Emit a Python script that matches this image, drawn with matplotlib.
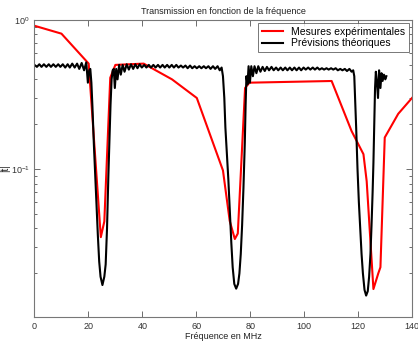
import matplotlib
matplotlib.use("Agg")
import matplotlib.pyplot as plt
from matplotlib.ticker import FixedLocator, NullFormatter

plt.rcParams['font.family'] = ['Liberation Sans', 'DejaVu Sans']
plt.rcParams['mathtext.fontset'] = 'custom'
plt.rcParams['mathtext.rm'] = 'Liberation Sans'
plt.rcParams['mathtext.it'] = 'Liberation Sans'

# experimental measurements (MHz, |t|)
mes_freq = [0, 10, 20.1, 24.6, 25.9, 28.1, 30, 40.5, 51, 60.2, 69.9, 72.4,
            74.3, 75.4, 78.1, 79.7, 110.2, 117.6, 122, 123.2, 125.7, 127.5,
            128.3, 129.9, 134.9, 140]
mes_t = [0.915, 0.81, 0.51, 0.035, 0.0446, 0.41, 0.50, 0.51, 0.40, 0.30, 0.098,
         0.045, 0.034, 0.037, 0.35, 0.38, 0.39, 0.18, 0.126, 0.083, 0.0157,
         0.020, 0.022, 0.163, 0.235, 0.30]

# theoretical prediction (MHz, |t|)
th_freq = [0.0, 0.9, 1.8, 2.6, 3.5, 4.4, 5.3, 6.1, 7.0, 7.9, 8.8, 9.6, 10.5,
           11.4, 12.3, 13.1, 14.0, 14.9, 15.8, 16.6, 17.5, 18.4, 19.2,
           19.8, 20.3, 20.7, 21.1, 21.5, 22.0, 22.5, 23.0, 23.5, 24.0, 24.5,
           25.2, 25.9, 26.4, 26.9, 27.4, 27.8, 28.2, 28.6, 29.0, 29.4, 29.8,
           30.3, 30.8, 31.4, 32.0, 32.7, 33.4, 34.2, 35.0, 35.8, 36.6, 37.4,
           38.2, 39.0, 39.8, 40.7, 41.5, 42.4, 43.2, 44.1, 44.9, 45.8, 46.6,
           47.5, 48.3, 49.2, 50.0, 50.9, 51.7, 52.6, 53.4, 54.3, 55.1, 56.0,
           56.8, 57.7, 58.5, 59.4, 60.2, 61.1, 61.9, 62.8, 63.6, 64.5, 65.3,
           66.2, 67.0, 67.9, 68.7, 69.4, 69.9,
           70.4, 70.8, 71.3, 71.9, 72.5, 73.0, 73.5, 74.1, 74.8, 75.5, 76.0,
           76.5, 77.0, 77.5, 78.0, 78.3, 78.6, 79.0, 79.4, 79.9, 80.4, 81.0,
           81.6, 82.3, 83.0, 83.8, 84.6, 85.4, 86.2, 87.0, 87.9, 88.7, 89.6,
           90.4, 91.3, 92.1, 93.0, 93.8, 94.7, 95.5, 96.4, 97.2, 98.1, 98.9,
           99.8, 100.6, 101.5, 102.3, 103.2, 104.0, 104.9, 105.7, 106.6,
           107.4, 108.3, 109.1, 110.0, 110.8, 111.7, 112.5, 113.4, 114.2,
           115.1, 115.9, 116.8, 117.6, 118.2, 118.6,
           118.9, 119.3, 119.8, 120.3, 120.8, 121.3, 121.8, 122.4, 123.0,
           123.6, 124.1, 124.6, 125.0, 125.4, 125.7, 126.0, 126.3, 126.6,
           127.0, 127.4, 127.8, 128.3, 128.7, 129.1, 129.6, 130.1, 130.5]
th_t = [0.50, 0.485, 0.505, 0.485, 0.505, 0.485, 0.505, 0.485, 0.505, 0.485,
        0.505, 0.485, 0.505, 0.48, 0.505, 0.48, 0.51, 0.48, 0.51, 0.47, 0.515,
        0.46, 0.52,
        0.38, 0.46, 0.47, 0.38, 0.26, 0.15, 0.092, 0.058, 0.036, 0.024, 0.019,
        0.0167, 0.019, 0.023, 0.04, 0.09, 0.16, 0.27, 0.40, 0.46, 0.47, 0.35,
        0.47, 0.40, 0.50, 0.43, 0.50, 0.45, 0.505, 0.465, 0.505, 0.47, 0.505,
        0.475, 0.505, 0.48, 0.50, 0.48, 0.50, 0.48, 0.50, 0.48, 0.50, 0.48,
        0.50, 0.48, 0.50, 0.48, 0.50, 0.48, 0.50, 0.48, 0.495, 0.48, 0.495,
        0.475, 0.495, 0.475, 0.49, 0.475, 0.49, 0.475, 0.49, 0.475, 0.49, 0.47,
        0.49, 0.47, 0.49, 0.46, 0.48, 0.42,
        0.30, 0.19, 0.13, 0.085, 0.05, 0.032, 0.022, 0.017, 0.0158, 0.017, 0.02,
        0.027, 0.042, 0.075, 0.15, 0.27, 0.42, 0.37, 0.49, 0.38, 0.49, 0.42,
        0.49, 0.44, 0.49, 0.45, 0.485, 0.455, 0.485, 0.46, 0.485, 0.46, 0.48,
        0.46, 0.48, 0.46, 0.48, 0.46, 0.48, 0.46, 0.48, 0.46, 0.48, 0.46,
        0.48, 0.465, 0.48, 0.465, 0.48, 0.465, 0.48, 0.465, 0.475, 0.465,
        0.475, 0.465, 0.475, 0.465, 0.475, 0.46, 0.47, 0.46, 0.47, 0.455,
        0.47, 0.45, 0.46, 0.42,
        0.30, 0.19, 0.10, 0.06, 0.040, 0.027, 0.020, 0.0155, 0.0142, 0.0152,
        0.019, 0.027, 0.042, 0.07, 0.11, 0.2, 0.35, 0.45, 0.38, 0.30, 0.46,
        0.35, 0.44, 0.39, 0.43, 0.40, 0.42]

xticks = [0, 20, 40, 60, 80, 100, 120, 140]

fig = plt.figure(figsize=(4.18, 3.42), dpi=100)
ax = fig.add_axes([0.0825, 0.0731, 0.9031, 0.8684])

ax.plot(mes_freq, mes_t, color='#ff0000', lw=1.5, label='Mesures expérimentales')
ax.plot(th_freq, th_t, color='black', lw=1.5, label='Prévisions théoriques')

ax.set_yscale('log')
ax.set_xlim(0, 140)
ax.set_ylim(0.0102, 1)

ax.xaxis.set_major_locator(FixedLocator(xticks))
ax.set_xticklabels([str(v) for v in xticks])
ax.yaxis.set_major_locator(FixedLocator([0.1, 1]))
ax.set_yticklabels([r'$10^{-1}$', r'$10^{0}$'])
minors = [k * 0.01 for k in range(2, 10)] + [k * 0.1 for k in range(2, 10)]
ax.yaxis.set_minor_locator(FixedLocator(minors))
ax.yaxis.set_minor_formatter(NullFormatter())

ax.tick_params(which='both', direction='in', top=True, right=True,
               colors='#555555', labelcolor='#333333', labelsize=6.5)
ax.tick_params(which='major', length=4, width=0.6)
ax.tick_params(which='minor', length=2, width=0.6)
for s in ax.spines.values():
    s.set_color('#777777')
    s.set_linewidth(0.8)

ax.set_title('Transmission en fonction de la fréquence', fontsize=6.5,
             color='#222222', pad=4)
ax.set_xlabel('Fréquence en MHz', fontsize=6.5, color='#222222', labelpad=1)
ax.set_ylabel('|t|', fontsize=7, color='#222222', labelpad=0)

leg = ax.legend(loc='upper right', fontsize=7.5, handlelength=2.0,
                borderpad=0.35, labelspacing=0.15, handletextpad=0.8,
                fancybox=False, borderaxespad=0.3)
leg.get_frame().set_edgecolor('#555555')
leg.get_frame().set_linewidth(0.7)

fig.savefig('out.png', dpi=100)
